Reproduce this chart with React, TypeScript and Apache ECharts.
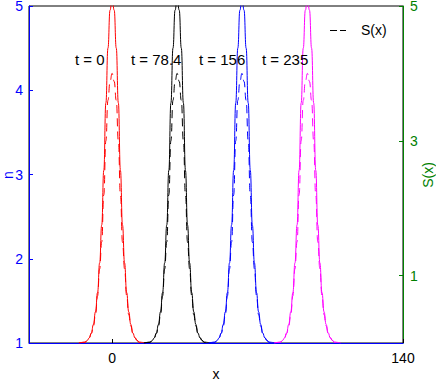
import React, { useEffect, useRef } from 'react';
import * as echarts from 'echarts';

// Peak positions (x) of the four snapshots and their colours / labels
const CENTERS = [0, 31.3, 62.5, 94];
const COLORS = ['#ff0000', '#000000', '#0000ff', '#ff00ff'];
const TIMES = ['t = 0', 't = 78.4', 't = 156', 't = 235'];
const TIME_LABEL_LEFT = [75, 131, 199, 262];

// Profile, relative to each peak position
const OFFSETS = [-16, -13, -12, -11, -10, -9, -8, -7, -6, -5, -4, -3, -2, -1, 0, 1, 2, 3, 4, 5, 6, 7, 8, 9, 10, 11, 12, 13, 16];
const N_PROFILE = [1.0, 1.01, 1.03, 1.06, 1.12, 1.22, 1.37, 1.6, 1.95, 2.4, 3.05, 3.85, 4.5, 4.95, 5.1, 4.95, 4.5, 3.85, 3.05, 2.4, 1.95, 1.6, 1.37, 1.22, 1.12, 1.06, 1.03, 1.01, 1.0];
const S_PROFILE = [0, 0.01, 0.04, 0.08, 0.14, 0.25, 0.42, 0.7, 1.1, 1.5, 2.2, 3.0, 3.6, 3.88, 4.0, 3.88, 3.6, 3.0, 2.2, 1.5, 1.1, 0.7, 0.42, 0.25, 0.14, 0.08, 0.04, 0.01, 0];

const X_TICKS = [0, 140];
const N_TICKS = [1, 2, 3, 4, 5];
const S_TICKS = [1, 3, 5];

const FONT = '"Liberation Sans", Arial, Helvetica, sans-serif';

export default function App() {
  const ref = useRef<HTMLDivElement>(null);
  useEffect(() => {
    if (!ref.current) return;
    const chart = echarts.init(ref.current, null, { renderer: 'svg' });

    const series: any[] = [];
    CENTERS.forEach((c, i) => {
      series.push({
        type: 'line',
        xAxisIndex: 0,
        yAxisIndex: 0,
        data: OFFSETS.map((o, k) => [c + o, N_PROFILE[k]]),
        showSymbol: false,
        smooth: true,
        smoothMonotone: 'x',
        clip: true,
        lineStyle: { color: COLORS[i], width: 1 },
        z: 3,
      });
      series.push({
        type: 'line',
        xAxisIndex: 0,
        yAxisIndex: 1,
        data: OFFSETS.map((o, k) => [c + o, S_PROFILE[k]]),
        showSymbol: false,
        smooth: true,
        smoothMonotone: 'x',
        clip: true,
        lineStyle: { color: COLORS[i], width: 1, type: [8, 5] },
        z: 3,
      });
    });

    const graphics: any[] = TIMES.map((t, i) => ({
      type: 'text',
      left: TIME_LABEL_LEFT[i],
      top: 52,
      style: { text: t, font: `15px ${FONT}`, fill: '#000' },
      z: 10,
    }));
    graphics.push(
      { type: 'line', shape: { x1: 330, y1: 30.5, x2: 337, y2: 30.5 }, style: { stroke: '#000', lineWidth: 1 }, z: 10 },
      { type: 'line', shape: { x1: 340, y1: 30.5, x2: 346, y2: 30.5 }, style: { stroke: '#000', lineWidth: 1 }, z: 10 },
      { type: 'text', left: 361, top: 23, style: { text: 'S(x)', font: `14px ${FONT}`, fill: '#000' }, z: 10 },
      // axis titles
      {
        type: 'text', x: 8, y: 175, rotation: Math.PI / 2,
        style: { text: 'n', font: `14px ${FONT}`, fill: '#0000ff', textAlign: 'center', textVerticalAlign: 'middle' }, z: 10,
      },
      {
        type: 'text', x: 428, y: 175, rotation: Math.PI / 2,
        style: { text: 'S(x)', font: `14px ${FONT}`, fill: '#008000', textAlign: 'center', textVerticalAlign: 'middle' }, z: 10,
      },
      {
        type: 'text', x: 216, y: 374,
        style: { text: 'x', font: `14px ${FONT}`, fill: '#000', textAlign: 'center', textVerticalAlign: 'middle' }, z: 10,
      }
    );

    chart.setOption({
      animation: false,
      backgroundColor: '#fff',
      textStyle: { fontFamily: FONT },
      grid: {
        left: 29, right: 33, top: 6, bottom: 39,
        containLabel: false,
        outerBoundsMode: 'none',
        show: true, borderColor: '#000', borderWidth: 1, backgroundColor: 'transparent',
      },
      xAxis: {
        type: 'value',
        min: -40,
        max: 140,
        axisLine: { show: true, onZero: false, lineStyle: { color: '#0000ff', width: 1 } },
        axisTick: { show: true, inside: true, length: 4, customValues: X_TICKS, lineStyle: { color: '#000' } },
        axisLabel: { customValues: X_TICKS, color: '#000', fontSize: 14, margin: 8, fontFamily: FONT },
        splitLine: { show: false },
      },
      yAxis: [
        {
          type: 'value',
          min: 1,
          max: 5,
          interval: 1,
          position: 'left',
          axisLine: { show: true, onZero: false, lineStyle: { color: '#0000ff', width: 1 } },
          axisTick: { show: true, inside: true, length: 4, customValues: N_TICKS, lineStyle: { color: '#0000ff' } },
          axisLabel: { customValues: N_TICKS, color: '#0000ff', fontSize: 14, margin: 6, fontFamily: FONT },
          splitLine: { show: false },
        },
        {
          type: 'value',
          min: 0,
          max: 5,
          position: 'right',
          axisLine: { show: true, onZero: false, lineStyle: { color: '#008000', width: 1 } },
          axisTick: { show: true, inside: true, length: 4, customValues: S_TICKS, lineStyle: { color: '#008000' } },
          axisLabel: { customValues: S_TICKS, color: '#008000', fontSize: 14, margin: 7, fontFamily: FONT },
          splitLine: { show: false },
        },
      ],
      series,
      graphic: graphics,
    });
    return () => chart.dispose();
  }, []);
  return <div ref={ref} style={{ width: 436, height: 382, position: 'absolute', left: 0, top: 0 }} />;
}
